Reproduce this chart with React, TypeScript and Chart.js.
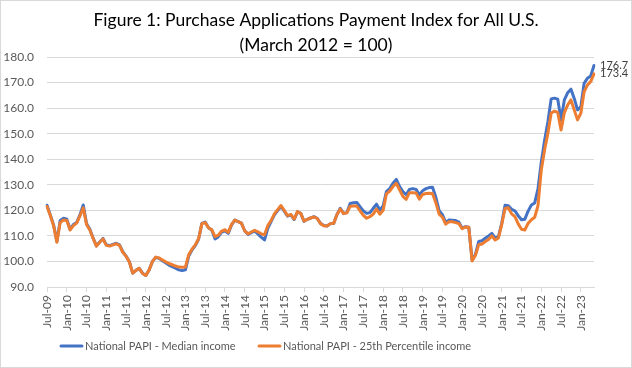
import React, { useEffect, useRef } from "react";
import { Chart, registerables } from "chart.js";

Chart.register(...registerables);

// ---------- Data ----------
const TITLE_LINES = ["Figure 1: Purchase Applications Payment Index for All U.S.", "(March 2012 = 100)"];
const SERIES_NAMES = ["National PAPI - Median income", "National PAPI - 25th Percentile income"];
const SERIES_COLORS = ["#4472C4", "#ED7D31"];

const MONTH_NAMES = ["Jan", "Feb", "Mar", "Apr", "May", "Jun", "Jul", "Aug", "Sep", "Oct", "Nov", "Dec"];
const START_YEAR = 2009;
const START_MONTH = 6; // July
const LABEL_EVERY = 6;

const Y_MIN = 90;
const Y_MAX = 180;
const Y_STEP = 10;

// Median income PAPI, by year (Jul-09 .. May-23)
const median2009 = [122.0, 118.2, 114.3, 107.8, 116.0, 116.9];
const median2010 = [116.5, 112.6, 114.4, 115.2, 118.2, 122.1, 114.8, 112.6, 109.1, 106.1, 107.6, 109.0];
const median2011 = [106.5, 106.2, 106.7, 107.1, 106.5, 103.8, 102.1, 99.9, 95.4, 96.5, 97.3, 95.4];
const median2012 = [94.5, 96.7, 100.0, 101.6, 101.2, 100.3, 99.5, 98.6, 98.0, 97.4, 96.7, 96.4];
const median2013 = [96.7, 102.1, 104.5, 106.2, 108.7, 114.9, 115.4, 113.2, 112.3, 108.8, 109.7, 111.5];
const median2014 = [112.0, 111.0, 114.3, 116.2, 115.6, 115.0, 112.0, 110.6, 111.3, 111.9, 110.8, 109.5];
const median2015 = [108.4, 113.0, 115.6, 118.2, 119.9, 121.5, 119.7, 117.7, 118.2, 116.4, 119.4, 118.8];
const median2016 = [115.7, 116.5, 117.0, 117.5, 116.9, 114.9, 114.1, 113.9, 114.8, 114.9, 118.4, 120.8];
const median2017 = [118.8, 119.1, 122.7, 123.0, 123.1, 121.4, 119.8, 118.8, 119.1, 120.8, 122.4, 120.1];
const median2018 = [121.7, 127.3, 128.5, 130.6, 132.1, 129.3, 127.3, 126.1, 128.2, 128.5, 128.2, 126.0];
const median2019 = [127.7, 128.5, 128.9, 129.0, 125.1, 119.9, 118.3, 115.2, 116.2, 116.1, 116.0, 115.4];
const median2020 = [113.0, 113.6, 113.4, 100.6, 102.7, 107.8, 108.1, 109.1, 110.0, 111.0, 109.1, 109.7];
const median2021 = [114.9, 122.0, 121.8, 120.4, 119.8, 117.9, 116.3, 116.5, 119.7, 122.1, 122.9, 128.4];
const median2022 = [138.8, 147.3, 154.6, 163.6, 163.9, 163.5, 155.4, 163.2, 166.0, 167.4, 163.8, 159.3];
const median2023 = [160.5, 169.7, 171.7, 172.6, 176.7];

// 25th percentile income PAPI, by year
const p25_2009 = [121.5, 118.0, 114.0, 107.5, 115.2, 116.2];
const p25_2010 = [116.0, 112.3, 114.0, 115.0, 117.8, 121.0, 114.5, 112.3, 109.0, 106.0, 107.5, 108.8];
const p25_2011 = [106.3, 106.0, 106.5, 106.9, 106.3, 103.6, 102.0, 99.8, 95.4, 96.5, 97.3, 95.3];
const p25_2012 = [94.5, 96.7, 100.0, 101.7, 101.4, 100.6, 99.9, 99.2, 98.7, 98.2, 97.8, 97.7];
const p25_2013 = [97.8, 102.6, 104.8, 106.5, 108.9, 114.8, 115.2, 113.2, 112.4, 109.7, 110.3, 111.9];
const p25_2014 = [112.4, 111.4, 114.5, 116.2, 115.6, 115.0, 112.0, 110.8, 111.5, 112.2, 111.6, 110.8];
const p25_2015 = [110.4, 114.0, 116.0, 118.6, 120.3, 121.9, 120.0, 117.9, 118.4, 116.6, 119.5, 118.8];
const p25_2016 = [115.8, 116.5, 117.0, 117.4, 116.8, 114.8, 114.0, 113.9, 114.8, 114.9, 118.4, 120.5];
const p25_2017 = [118.7, 119.0, 121.6, 121.7, 121.7, 119.8, 118.0, 116.9, 117.5, 118.5, 120.5, 118.5];
const p25_2018 = [120.0, 126.4, 127.5, 129.3, 130.6, 128.0, 125.5, 124.3, 126.9, 126.9, 126.8, 124.4];
const p25_2019 = [126.2, 126.6, 126.7, 126.5, 123.0, 118.5, 117.3, 114.6, 115.5, 115.5, 115.2, 114.8];
const p25_2020 = [112.8, 113.5, 113.4, 100.2, 102.3, 106.5, 106.8, 107.8, 108.6, 110.0, 108.4, 109.2];
const p25_2021 = [114.5, 120.7, 121.0, 118.6, 117.5, 114.7, 112.6, 112.3, 114.9, 116.3, 117.3, 121.8];
const p25_2022 = [135.8, 143.6, 150.1, 158.1, 158.8, 158.3, 151.4, 158.2, 161.2, 163.2, 159.3, 155.4];
const p25_2023 = [158.0, 166.4, 169.0, 170.4, 173.4];

const medianSeries = [
  ...median2009, ...median2010, ...median2011, ...median2012, ...median2013,
  ...median2014, ...median2015, ...median2016, ...median2017, ...median2018,
  ...median2019, ...median2020, ...median2021, ...median2022, ...median2023,
];
const p25Series = [
  ...p25_2009, ...p25_2010, ...p25_2011, ...p25_2012, ...p25_2013,
  ...p25_2014, ...p25_2015, ...p25_2016, ...p25_2017, ...p25_2018,
  ...p25_2019, ...p25_2020, ...p25_2021, ...p25_2022, ...p25_2023,
];

const monthLabels = medianSeries.map((_, i) => {
  const m = (START_MONTH + i) % 12;
  const y = START_YEAR + Math.floor((START_MONTH + i) / 12);
  return `${MONTH_NAMES[m]}-${String(y % 100).padStart(2, "0")}`;
});

// ---------- Styling ----------
const FONT = "Lato, 'Liberation Sans', sans-serif";
const AXIS_COLOR = "#595959";
const GRID_COLOR = "#d9d9d9";

const W = 632;
const H = 368;

const framePlugin = {
  id: "frame",
  beforeDraw(chart: any) {
    const { ctx } = chart;
    ctx.save();
    ctx.fillStyle = "#ffffff";
    ctx.fillRect(0, 0, chart.width, chart.height);
    ctx.restore();
  },
  afterDraw(chart: any) {
    const { ctx } = chart;
    ctx.save();
    ctx.strokeStyle = GRID_COLOR;
    ctx.lineWidth = 1;
    ctx.strokeRect(0.5, 0.5, chart.width - 1, chart.height - 1);

    // title
    ctx.fillStyle = "#000000";
    ctx.textAlign = "center";
    ctx.textBaseline = "middle";
    ctx.font = `17.5px ${FONT}`;
    ctx.fillText(TITLE_LINES[0], chart.width / 2, 20);
    ctx.fillText(TITLE_LINES[1], chart.width / 2, 45);

    // legend
    const legendY = 346;
    const starts = [60, 258];
    ctx.font = `11px ${FONT}`;
    ctx.textAlign = "left";
    SERIES_NAMES.forEach((name, k) => {
      const x0 = starts[k];
      ctx.strokeStyle = SERIES_COLORS[k];
      ctx.lineWidth = 3;
      ctx.lineCap = "round";
      ctx.beginPath();
      ctx.moveTo(x0 + 1, legendY);
      ctx.lineTo(x0 + 22, legendY);
      ctx.stroke();
      ctx.fillStyle = AXIS_COLOR;
      ctx.fillText(name, x0 + 25, legendY);
    });
    ctx.restore();
  },
  afterDatasetsDraw(chart: any) {
    const { ctx } = chart;
    ctx.save();
    ctx.font = `11px ${FONT}`;
    ctx.fillStyle = "#404040";
    ctx.textAlign = "left";
    ctx.textBaseline = "middle";
    chart.data.datasets.forEach((ds: any, k: number) => {
      const meta = chart.getDatasetMeta(k);
      const last = meta.data[meta.data.length - 1];
      if (!last) return;
      ctx.fillText(ds.data[ds.data.length - 1].toFixed(1), last.x + 6, last.y);
    });
    ctx.restore();
  },
};

export default function App() {
  const canvasRef = useRef<HTMLCanvasElement | null>(null);

  useEffect(() => {
    const canvas = canvasRef.current;
    if (!canvas) return;
    const chart = new Chart(canvas, {
      type: "line",
      data: {
        labels: monthLabels,
        datasets: [
          {
            label: SERIES_NAMES[0],
            data: medianSeries,
            borderColor: SERIES_COLORS[0],
            backgroundColor: SERIES_COLORS[0],
            borderWidth: 3,
            pointRadius: 0,
            tension: 0,
            borderJoinStyle: "round",
            borderCapStyle: "round",
            order: 1,
          },
          {
            label: SERIES_NAMES[1],
            data: p25Series,
            borderColor: SERIES_COLORS[1],
            backgroundColor: SERIES_COLORS[1],
            borderWidth: 3,
            pointRadius: 0,
            tension: 0,
            borderJoinStyle: "round",
            borderCapStyle: "round",
            order: 0,
          },
        ],
      },
      options: {
        responsive: false,
        animation: false,
        devicePixelRatio: 1,
        layout: { padding: { left: 0, right: 38, top: 57, bottom: 0 } },
        plugins: {
          legend: { display: false },
          title: { display: false },
          tooltip: { enabled: false },
        },
        scales: {
          x: {
            type: "category",
            offset: false,
            afterFit: (s: any) => {
              s.height = 81;
            },
            grid: {
              drawOnChartArea: false,
              drawTicks: true,
              tickLength: 5,
              color: GRID_COLOR,
            },
            border: { display: true, color: GRID_COLOR, width: 1 },
            ticks: {
              autoSkip: false,
              minRotation: 90,
              maxRotation: 90,
              padding: 3,
              color: AXIS_COLOR,
              font: { family: FONT, size: 12 },
              callback: (_v: any, idx: number) => (idx % LABEL_EVERY === 0 ? monthLabels[idx] : null),
            },
          },
          y: {
            min: Y_MIN,
            max: Y_MAX,
            afterFit: (s: any) => {
              s.width = 47;
            },
            grid: { color: GRID_COLOR, drawTicks: false },
            border: { display: false },
            ticks: {
              stepSize: Y_STEP,
              padding: 13,
              color: AXIS_COLOR,
              font: { family: FONT, size: 12 },
              callback: (v: any) => Number(v).toFixed(1),
            },
          },
        },
      },
      plugins: [framePlugin],
    });
    return () => chart.destroy();
  }, []);

  return (
    <div style={{ position: "absolute", left: 0, top: 0, width: W, height: H }}>
      <canvas ref={canvasRef} width={W} height={H} style={{ display: "block" }} />
    </div>
  );
}
